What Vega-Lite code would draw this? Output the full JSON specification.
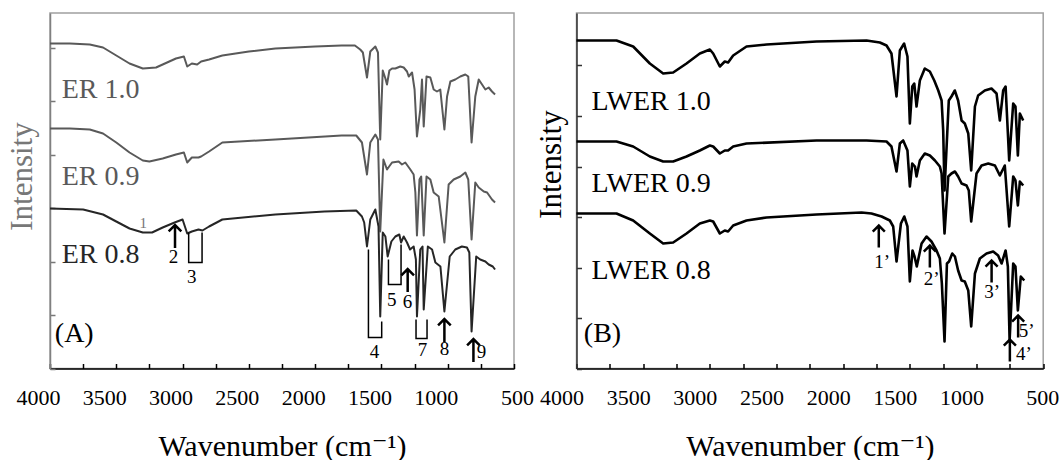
{
"$schema":"https://vega.github.io/schema/vega-lite/v6.json",
"padding":{"left":5,"top":12,"right":5,"bottom":0},
"bounds":"flush",
"spacing":62.5,
"config":{"font":"Times New Roman, Liberation Serif, DejaVu Serif, serif","axis":{"grid":false,"labelFont":"Times New Roman, Liberation Serif, DejaVu Serif, serif","titleFont":"Times New Roman, Liberation Serif, DejaVu Serif, serif"},"text":{"font":"Times New Roman, Liberation Serif, DejaVu Serif, serif"},"view":{"stroke":"#a0a0a0","strokeWidth":1.5}},
"datasets":{
"er":[
{"s":"ER 1.0","w":4000,"y":325},{"s":"ER 1.0","w":3850,"y":325},{"s":"ER 1.0","w":3700,"y":324},{"s":"ER 1.0","w":3600,"y":321},{"s":"ER 1.0","w":3500,"y":313},{"s":"ER 1.0","w":3400,"y":305},{"s":"ER 1.0","w":3300,"y":300},{"s":"ER 1.0","w":3200,"y":301},{"s":"ER 1.0","w":3100,"y":307},{"s":"ER 1.0","w":3050,"y":310},{"s":"ER 1.0","w":2990,"y":312},{"s":"ER 1.0","w":2965,"y":302},{"s":"ER 1.0","w":2930,"y":305},{"s":"ER 1.0","w":2890,"y":304},{"s":"ER 1.0","w":2860,"y":307},{"s":"ER 1.0","w":2800,"y":309},{"s":"ER 1.0","w":2700,"y":313},{"s":"ER 1.0","w":2500,"y":317},{"s":"ER 1.0","w":2300,"y":320},{"s":"ER 1.0","w":2000,"y":322},{"s":"ER 1.0","w":1800,"y":323},{"s":"ER 1.0","w":1700,"y":323},{"s":"ER 1.0","w":1660,"y":319},{"s":"ER 1.0","w":1640,"y":316},{"s":"ER 1.0","w":1609,"y":291},{"s":"ER 1.0","w":1584,"y":317},{"s":"ER 1.0","w":1546,"y":322},{"s":"ER 1.0","w":1526,"y":316},{"s":"ER 1.0","w":1509,"y":229},{"s":"ER 1.0","w":1490,"y":298},{"s":"ER 1.0","w":1470,"y":290},{"s":"ER 1.0","w":1458,"y":284},{"s":"ER 1.0","w":1440,"y":298},{"s":"ER 1.0","w":1420,"y":300},{"s":"ER 1.0","w":1395,"y":300},{"s":"ER 1.0","w":1358,"y":302},{"s":"ER 1.0","w":1332,"y":301},{"s":"ER 1.0","w":1307,"y":297},{"s":"ER 1.0","w":1294,"y":292},{"s":"ER 1.0","w":1269,"y":296},{"s":"ER 1.0","w":1250,"y":279},{"s":"ER 1.0","w":1232,"y":232},{"s":"ER 1.0","w":1207,"y":259},{"s":"ER 1.0","w":1194,"y":289},{"s":"ER 1.0","w":1181,"y":242},{"s":"ER 1.0","w":1160,"y":292},{"s":"ER 1.0","w":1131,"y":291},{"s":"ER 1.0","w":1106,"y":279},{"s":"ER 1.0","w":1081,"y":277},{"s":"ER 1.0","w":1056,"y":279},{"s":"ER 1.0","w":1025,"y":239},{"s":"ER 1.0","w":1005,"y":272},{"s":"ER 1.0","w":980,"y":287},{"s":"ER 1.0","w":943,"y":289},{"s":"ER 1.0","w":905,"y":292},{"s":"ER 1.0","w":867,"y":294},{"s":"ER 1.0","w":845,"y":292},{"s":"ER 1.0","w":820,"y":226},{"s":"ER 1.0","w":792,"y":272},{"s":"ER 1.0","w":766,"y":289},{"s":"ER 1.0","w":741,"y":284},{"s":"ER 1.0","w":716,"y":279},{"s":"ER 1.0","w":691,"y":281},{"s":"ER 1.0","w":666,"y":277},{"s":"ER 1.0","w":643,"y":274},
{"s":"ER 0.9","w":4000,"y":240},{"s":"ER 0.9","w":3850,"y":240},{"s":"ER 0.9","w":3700,"y":239},{"s":"ER 0.9","w":3600,"y":235},{"s":"ER 0.9","w":3500,"y":226},{"s":"ER 0.9","w":3400,"y":216},{"s":"ER 0.9","w":3300,"y":208},{"s":"ER 0.9","w":3250,"y":207},{"s":"ER 0.9","w":3150,"y":210},{"s":"ER 0.9","w":3050,"y":214},{"s":"ER 0.9","w":2990,"y":216},{"s":"ER 0.9","w":2965,"y":206},{"s":"ER 0.9","w":2930,"y":211},{"s":"ER 0.9","w":2880,"y":211},{"s":"ER 0.9","w":2860,"y":212},{"s":"ER 0.9","w":2800,"y":217},{"s":"ER 0.9","w":2700,"y":226},{"s":"ER 0.9","w":2300,"y":229},{"s":"ER 0.9","w":2050,"y":231},{"s":"ER 0.9","w":1800,"y":233},{"s":"ER 0.9","w":1690,"y":233},{"s":"ER 0.9","w":1647,"y":226},{"s":"ER 0.9","w":1609,"y":194},{"s":"ER 0.9","w":1584,"y":226},{"s":"ER 0.9","w":1546,"y":234},{"s":"ER 0.9","w":1526,"y":229},{"s":"ER 0.9","w":1509,"y":137},{"s":"ER 0.9","w":1485,"y":209},{"s":"ER 0.9","w":1458,"y":199},{"s":"ER 0.9","w":1420,"y":206},{"s":"ER 0.9","w":1370,"y":207},{"s":"ER 0.9","w":1345,"y":204},{"s":"ER 0.9","w":1320,"y":206},{"s":"ER 0.9","w":1282,"y":199},{"s":"ER 0.9","w":1257,"y":194},{"s":"ER 0.9","w":1244,"y":176},{"s":"ER 0.9","w":1232,"y":133},{"s":"ER 0.9","w":1213,"y":189},{"s":"ER 0.9","w":1200,"y":192},{"s":"ER 0.9","w":1181,"y":133},{"s":"ER 0.9","w":1160,"y":192},{"s":"ER 0.9","w":1131,"y":189},{"s":"ER 0.9","w":1106,"y":176},{"s":"ER 0.9","w":1068,"y":172},{"s":"ER 0.9","w":1025,"y":126},{"s":"ER 0.9","w":993,"y":184},{"s":"ER 0.9","w":955,"y":189},{"s":"ER 0.9","w":905,"y":192},{"s":"ER 0.9","w":867,"y":196},{"s":"ER 0.9","w":845,"y":189},{"s":"ER 0.9","w":820,"y":129},{"s":"ER 0.9","w":792,"y":186},{"s":"ER 0.9","w":766,"y":181},{"s":"ER 0.9","w":728,"y":177},{"s":"ER 0.9","w":703,"y":176},{"s":"ER 0.9","w":666,"y":169},{"s":"ER 0.9","w":643,"y":166},
{"s":"ER 0.8","w":4000,"y":160},{"s":"ER 0.8","w":3750,"y":159},{"s":"ER 0.8","w":3600,"y":154},{"s":"ER 0.8","w":3500,"y":147},{"s":"ER 0.8","w":3400,"y":140},{"s":"ER 0.8","w":3300,"y":136},{"s":"ER 0.8","w":3230,"y":136},{"s":"ER 0.8","w":3150,"y":141},{"s":"ER 0.8","w":3060,"y":146},{"s":"ER 0.8","w":3000,"y":149},{"s":"ER 0.8","w":2965,"y":135},{"s":"ER 0.8","w":2930,"y":137},{"s":"ER 0.8","w":2880,"y":139},{"s":"ER 0.8","w":2850,"y":138},{"s":"ER 0.8","w":2800,"y":142},{"s":"ER 0.8","w":2700,"y":149},{"s":"ER 0.8","w":2300,"y":154},{"s":"ER 0.8","w":1930,"y":157},{"s":"ER 0.8","w":1690,"y":158},{"s":"ER 0.8","w":1647,"y":152},{"s":"ER 0.8","w":1630,"y":146},{"s":"ER 0.8","w":1609,"y":122},{"s":"ER 0.8","w":1584,"y":149},{"s":"ER 0.8","w":1546,"y":159},{"s":"ER 0.8","w":1522,"y":142},{"s":"ER 0.8","w":1509,"y":52},{"s":"ER 0.8","w":1490,"y":136},{"s":"ER 0.8","w":1470,"y":132},{"s":"ER 0.8","w":1453,"y":112},{"s":"ER 0.8","w":1425,"y":127},{"s":"ER 0.8","w":1395,"y":132},{"s":"ER 0.8","w":1365,"y":134},{"s":"ER 0.8","w":1352,"y":126},{"s":"ER 0.8","w":1332,"y":132},{"s":"ER 0.8","w":1307,"y":126},{"s":"ER 0.8","w":1284,"y":119},{"s":"ER 0.8","w":1257,"y":122},{"s":"ER 0.8","w":1240,"y":109},{"s":"ER 0.8","w":1232,"y":52},{"s":"ER 0.8","w":1207,"y":119},{"s":"ER 0.8","w":1190,"y":122},{"s":"ER 0.8","w":1181,"y":59},{"s":"ER 0.8","w":1150,"y":122},{"s":"ER 0.8","w":1118,"y":119},{"s":"ER 0.8","w":1093,"y":106},{"s":"ER 0.8","w":1055,"y":102},{"s":"ER 0.8","w":1025,"y":57},{"s":"ER 0.8","w":985,"y":112},{"s":"ER 0.8","w":943,"y":119},{"s":"ER 0.8","w":893,"y":122},{"s":"ER 0.8","w":855,"y":121},{"s":"ER 0.8","w":837,"y":116},{"s":"ER 0.8","w":820,"y":37},{"s":"ER 0.8","w":785,"y":112},{"s":"ER 0.8","w":755,"y":109},{"s":"ER 0.8","w":716,"y":107},{"s":"ER 0.8","w":691,"y":104},{"s":"ER 0.8","w":660,"y":102},{"s":"ER 0.8","w":643,"y":99}
],
"lw":[
{"s":"LWER 1.0","w":4000,"y":328},{"s":"LWER 1.0","w":3700,"y":328},{"s":"LWER 1.0","w":3575,"y":322},{"s":"LWER 1.0","w":3450,"y":305},{"s":"LWER 1.0","w":3350,"y":295},{"s":"LWER 1.0","w":3275,"y":296},{"s":"LWER 1.0","w":3175,"y":305},{"s":"LWER 1.0","w":3075,"y":315},{"s":"LWER 1.0","w":3000,"y":319},{"s":"LWER 1.0","w":2975,"y":315},{"s":"LWER 1.0","w":2925,"y":302},{"s":"LWER 1.0","w":2888,"y":307},{"s":"LWER 1.0","w":2863,"y":306},{"s":"LWER 1.0","w":2825,"y":313},{"s":"LWER 1.0","w":2725,"y":322},{"s":"LWER 1.0","w":2575,"y":324},{"s":"LWER 1.0","w":2200,"y":327},{"s":"LWER 1.0","w":1825,"y":328},{"s":"LWER 1.0","w":1725,"y":326},{"s":"LWER 1.0","w":1675,"y":323},{"s":"LWER 1.0","w":1638,"y":315},{"s":"LWER 1.0","w":1600,"y":272},{"s":"LWER 1.0","w":1575,"y":318},{"s":"LWER 1.0","w":1543,"y":325},{"s":"LWER 1.0","w":1518,"y":312},{"s":"LWER 1.0","w":1500,"y":245},{"s":"LWER 1.0","w":1482,"y":282},{"s":"LWER 1.0","w":1467,"y":285},{"s":"LWER 1.0","w":1450,"y":262},{"s":"LWER 1.0","w":1425,"y":288},{"s":"LWER 1.0","w":1388,"y":300},{"s":"LWER 1.0","w":1350,"y":297},{"s":"LWER 1.0","w":1317,"y":288},{"s":"LWER 1.0","w":1287,"y":278},{"s":"LWER 1.0","w":1262,"y":268},{"s":"LWER 1.0","w":1250,"y":238},{"s":"LWER 1.0","w":1240,"y":178},{"s":"LWER 1.0","w":1208,"y":268},{"s":"LWER 1.0","w":1188,"y":272},{"s":"LWER 1.0","w":1163,"y":278},{"s":"LWER 1.0","w":1138,"y":268},{"s":"LWER 1.0","w":1112,"y":248},{"s":"LWER 1.0","w":1088,"y":245},{"s":"LWER 1.0","w":1062,"y":235},{"s":"LWER 1.0","w":1040,"y":198},{"s":"LWER 1.0","w":1012,"y":262},{"s":"LWER 1.0","w":988,"y":273},{"s":"LWER 1.0","w":938,"y":278},{"s":"LWER 1.0","w":888,"y":280},{"s":"LWER 1.0","w":850,"y":275},{"s":"LWER 1.0","w":825,"y":248},{"s":"LWER 1.0","w":800,"y":278},{"s":"LWER 1.0","w":782,"y":282},{"s":"LWER 1.0","w":755,"y":208},{"s":"LWER 1.0","w":725,"y":265},{"s":"LWER 1.0","w":708,"y":262},{"s":"LWER 1.0","w":690,"y":213},{"s":"LWER 1.0","w":675,"y":255},{"s":"LWER 1.0","w":650,"y":248},
{"s":"LWER 0.9","w":4000,"y":227},{"s":"LWER 0.9","w":3700,"y":227},{"s":"LWER 0.9","w":3575,"y":222},{"s":"LWER 0.9","w":3450,"y":212},{"s":"LWER 0.9","w":3350,"y":207},{"s":"LWER 0.9","w":3275,"y":207},{"s":"LWER 0.9","w":3175,"y":212},{"s":"LWER 0.9","w":3075,"y":218},{"s":"LWER 0.9","w":3000,"y":223},{"s":"LWER 0.9","w":2975,"y":222},{"s":"LWER 0.9","w":2925,"y":215},{"s":"LWER 0.9","w":2888,"y":218},{"s":"LWER 0.9","w":2863,"y":218},{"s":"LWER 0.9","w":2825,"y":222},{"s":"LWER 0.9","w":2725,"y":225},{"s":"LWER 0.9","w":2200,"y":228},{"s":"LWER 0.9","w":1825,"y":228},{"s":"LWER 0.9","w":1675,"y":227},{"s":"LWER 0.9","w":1638,"y":222},{"s":"LWER 0.9","w":1600,"y":197},{"s":"LWER 0.9","w":1575,"y":225},{"s":"LWER 0.9","w":1550,"y":228},{"s":"LWER 0.9","w":1518,"y":218},{"s":"LWER 0.9","w":1500,"y":182},{"s":"LWER 0.9","w":1482,"y":205},{"s":"LWER 0.9","w":1462,"y":202},{"s":"LWER 0.9","w":1450,"y":192},{"s":"LWER 0.9","w":1425,"y":208},{"s":"LWER 0.9","w":1388,"y":215},{"s":"LWER 0.9","w":1350,"y":213},{"s":"LWER 0.9","w":1312,"y":208},{"s":"LWER 0.9","w":1275,"y":202},{"s":"LWER 0.9","w":1262,"y":195},{"s":"LWER 0.9","w":1240,"y":135},{"s":"LWER 0.9","w":1212,"y":192},{"s":"LWER 0.9","w":1188,"y":195},{"s":"LWER 0.9","w":1162,"y":197},{"s":"LWER 0.9","w":1138,"y":192},{"s":"LWER 0.9","w":1112,"y":185},{"s":"LWER 0.9","w":1075,"y":183},{"s":"LWER 0.9","w":1058,"y":178},{"s":"LWER 0.9","w":1040,"y":147},{"s":"LWER 0.9","w":1000,"y":195},{"s":"LWER 0.9","w":962,"y":203},{"s":"LWER 0.9","w":912,"y":205},{"s":"LWER 0.9","w":862,"y":203},{"s":"LWER 0.9","w":825,"y":193},{"s":"LWER 0.9","w":788,"y":203},{"s":"LWER 0.9","w":755,"y":142},{"s":"LWER 0.9","w":725,"y":192},{"s":"LWER 0.9","w":708,"y":188},{"s":"LWER 0.9","w":690,"y":163},{"s":"LWER 0.9","w":675,"y":187},{"s":"LWER 0.9","w":650,"y":183},
{"s":"LWER 0.8","w":4000,"y":155},{"s":"LWER 0.8","w":3700,"y":155},{"s":"LWER 0.8","w":3575,"y":148},{"s":"LWER 0.8","w":3450,"y":135},{"s":"LWER 0.8","w":3350,"y":125},{"s":"LWER 0.8","w":3275,"y":126},{"s":"LWER 0.8","w":3175,"y":135},{"s":"LWER 0.8","w":3075,"y":145},{"s":"LWER 0.8","w":3000,"y":148},{"s":"LWER 0.8","w":2975,"y":147},{"s":"LWER 0.8","w":2925,"y":135},{"s":"LWER 0.8","w":2888,"y":138},{"s":"LWER 0.8","w":2863,"y":137},{"s":"LWER 0.8","w":2825,"y":143},{"s":"LWER 0.8","w":2725,"y":148},{"s":"LWER 0.8","w":2575,"y":151},{"s":"LWER 0.8","w":2200,"y":154},{"s":"LWER 0.8","w":1862,"y":156},{"s":"LWER 0.8","w":1788,"y":155},{"s":"LWER 0.8","w":1712,"y":152},{"s":"LWER 0.8","w":1650,"y":148},{"s":"LWER 0.8","w":1625,"y":142},{"s":"LWER 0.8","w":1600,"y":107},{"s":"LWER 0.8","w":1567,"y":145},{"s":"LWER 0.8","w":1542,"y":152},{"s":"LWER 0.8","w":1518,"y":142},{"s":"LWER 0.8","w":1500,"y":87},{"s":"LWER 0.8","w":1480,"y":118},{"s":"LWER 0.8","w":1465,"y":112},{"s":"LWER 0.8","w":1448,"y":102},{"s":"LWER 0.8","w":1412,"y":125},{"s":"LWER 0.8","w":1375,"y":132},{"s":"LWER 0.8","w":1338,"y":127},{"s":"LWER 0.8","w":1300,"y":118},{"s":"LWER 0.8","w":1275,"y":110},{"s":"LWER 0.8","w":1260,"y":85},{"s":"LWER 0.8","w":1240,"y":27},{"s":"LWER 0.8","w":1222,"y":105},{"s":"LWER 0.8","w":1206,"y":107},{"s":"LWER 0.8","w":1182,"y":115},{"s":"LWER 0.8","w":1162,"y":112},{"s":"LWER 0.8","w":1138,"y":98},{"s":"LWER 0.8","w":1112,"y":88},{"s":"LWER 0.8","w":1088,"y":87},{"s":"LWER 0.8","w":1062,"y":78},{"s":"LWER 0.8","w":1040,"y":42},{"s":"LWER 0.8","w":1012,"y":95},{"s":"LWER 0.8","w":975,"y":110},{"s":"LWER 0.8","w":925,"y":115},{"s":"LWER 0.8","w":875,"y":117},{"s":"LWER 0.8","w":838,"y":113},{"s":"LWER 0.8","w":812,"y":105},{"s":"LWER 0.8","w":782,"y":118},{"s":"LWER 0.8","w":765,"y":102},{"s":"LWER 0.8","w":752,"y":28},{"s":"LWER 0.8","w":725,"y":105},{"s":"LWER 0.8","w":708,"y":102},{"s":"LWER 0.8","w":690,"y":58},{"s":"LWER 0.8","w":668,"y":92},{"s":"LWER 0.8","w":642,"y":88}
],
"erLab":[{"s":"ER 1.0","w":3912,"y":271},{"s":"ER 0.9","w":3912,"y":184},{"s":"ER 0.8","w":3912,"y":106}],
"lwLab":[{"s":"LWER 1.0","w":3887,"y":259},{"s":"LWER 0.9","w":3887,"y":177},{"s":"LWER 0.8","w":3887,"y":90}],
"erArr":[{"w":3057,"y":132},{"w":1302,"y":88},{"w":1025,"y":38},{"w":806,"y":18}],
"lwArr":[{"w":1733,"y":132},{"w":1350,"y":112},{"w":887,"y":97},{"w":750,"y":18},{"w":688,"y":42}],
"erNum":[{"t":"1","w":3296,"y":146},{"t":"2","w":3069,"y":112},{"t":"3","w":2931,"y":92},{"t":"4","w":1553,"y":17},{"t":"5","w":1423,"y":69},{"t":"6","w":1304,"y":67},{"t":"7","w":1191,"y":19},{"t":"8","w":1025,"y":20},{"t":"9","w":745,"y":17}],
"lwNum":[{"t":"1’","w":1708,"y":107},{"t":"2’","w":1337,"y":90},{"t":"3’","w":882,"y":77},{"t":"4’","w":645,"y":15},{"t":"5’","w":625,"y":38}],
"erBr":[{"b":"3","i":0,"w":2954,"y":136},{"b":"3","i":1,"w":2954,"y":106},{"b":"3","i":2,"w":2853,"y":106},{"b":"3","i":3,"w":2853,"y":136},
{"b":"4","i":0,"w":1598,"y":119},{"b":"4","i":1,"w":1598,"y":31},{"b":"4","i":2,"w":1498,"y":31},{"b":"4","i":3,"w":1498,"y":47},
{"b":"5","i":0,"w":1447,"y":109},{"b":"5","i":1,"w":1447,"y":84},{"b":"5","i":2,"w":1352,"y":84},{"b":"5","i":3,"w":1352,"y":124},
{"b":"7","i":0,"w":1239,"y":49},{"b":"7","i":1,"w":1239,"y":30},{"b":"7","i":2,"w":1156,"y":30},{"b":"7","i":3,"w":1156,"y":49}],
"pA":[{"p":"(A)","w":3817,"y":35}],
"pB":[{"p":"(B)","w":3805,"y":35}]
},
"hconcat":[
{
"width":464,"height":355.5,
"resolve":{"axis":{"x":"independent"}},
"layer":[
{"data":{"name":"er"},"mark":{"type":"line","strokeWidth":2,"strokeJoin":"round"},
"encoding":{
"x":{"field":"w","type":"quantitative","scale":{"domain":[4000,500],"nice":false},
"axis":{"values":[4000,3750,3500,3250,3000,2750,2500,2250,2000,1750,1500,1250,1000,750,500],"format":"d","labelExpr":"datum.value % 500 === 0 && datum.value > 500 ? datum.label : ''","labelOffset":-12,"labelFontSize":22,"labelPadding":24,"labelFlush":false,"labelOverlap":false,"labelColor":"#000","tickSize":-5,"tickColor":"#000","tickWidth":1.5,"domainColor":"#000","domainWidth":1.5,"title":"Wavenumber (cm⁻¹)","titleFontSize":30,"titleFontWeight":"normal","titleColor":"#000","titleBaseline":"alphabetic","titleY":86.5}},
"y":{"field":"y","type":"quantitative","scale":{"domain":[0,355.5],"nice":false},
"axis":{"values":[0,53.5,107,160.5,214,267.5,321],"labels":false,"tickSize":-5,"tickColor":"#777","tickWidth":1.5,"domainColor":"#808080","domainWidth":1.5,"title":"Intensity","titleFontSize":31,"titleFontWeight":"normal","titleColor":"#777","titleX":-28,"titleY":163,"titleAngle":270,"titleBaseline":"middle","titleAlign":"center"}},
"color":{"field":"s","type":"nominal","scale":{"domain":["ER 1.0","ER 0.9","ER 0.8"],"range":["#595959","#595959","#262626"]},"legend":null}}},
{"data":{"name":"erBr"},"mark":{"type":"line","strokeWidth":1.5,"color":"#000"},
"encoding":{"x":{"field":"w","type":"quantitative","scale":{"domain":[4000,500],"nice":false},"axis":null},
"y":{"field":"y","type":"quantitative","scale":{"domain":[0,355.5],"nice":false}},
"detail":{"field":"b"},"order":{"field":"i","type":"quantitative"}}},
{"data":{"name":"erArr"},"mark":{"type":"point","shape":"M0,-1L0,1M-0.55,-0.45L0,-1L0.55,-0.45","size":529,"filled":false,"stroke":"#000","strokeWidth":2.5,"opacity":1},
"encoding":{"x":{"field":"w","type":"quantitative","scale":{"domain":[4000,500],"nice":false},"axis":null},
"y":{"field":"y","type":"quantitative","scale":{"domain":[0,355.5],"nice":false}}}},
{"data":{"name":"erNum"},"transform":[{"filter":"datum.t !== '1'"}],"mark":{"type":"text","fontSize":19,"color":"#000","align":"center","baseline":"middle"},
"encoding":{"x":{"field":"w","type":"quantitative","scale":{"domain":[4000,500],"nice":false},"axis":null},
"y":{"field":"y","type":"quantitative","scale":{"domain":[0,355.5],"nice":false}},"text":{"field":"t"}}},
{"data":{"name":"erNum"},"transform":[{"filter":"datum.t === '1'"}],"mark":{"type":"text","fontSize":15,"color":"#777","align":"center","baseline":"middle"},
"encoding":{"x":{"field":"w","type":"quantitative","scale":{"domain":[4000,500],"nice":false},"axis":null},
"y":{"field":"y","type":"quantitative","scale":{"domain":[0,355.5],"nice":false}},"text":{"field":"t"}}},
{"data":{"name":"erLab"},"mark":{"type":"text","fontSize":28,"align":"left","baseline":"alphabetic"},
"encoding":{"x":{"field":"w","type":"quantitative","scale":{"domain":[4000,500],"nice":false},"axis":null},
"y":{"field":"y","type":"quantitative","scale":{"domain":[0,355.5],"nice":false}},"text":{"field":"s"},
"color":{"field":"s","type":"nominal","scale":{"domain":["ER 1.0","ER 0.9","ER 0.8"],"range":["#595959","#595959","#262626"]},"legend":null}}},
{"data":{"name":"pA"},"mark":{"type":"text","fontSize":28,"align":"center","baseline":"middle","color":"#000"},
"encoding":{"x":{"field":"w","type":"quantitative","scale":{"domain":[4000,500],"nice":false},
"axis":{"orient":"bottom","values":[500],"format":"d","labelOffset":3,"labelFontSize":22,"labelPadding":19,"labelFlush":false,"labelOverlap":false,"labelColor":"#000","ticks":false,"domain":false,"title":null}},
"y":{"field":"y","type":"quantitative","scale":{"domain":[0,355.5],"nice":false}},"text":{"field":"p"}}}
]
},
{
"width":466.7,"height":355.5,
"resolve":{"axis":{"x":"independent"}},
"layer":[
{"data":{"name":"lw"},"mark":{"type":"line","strokeWidth":2.6,"strokeJoin":"round","color":"#000"},
"encoding":{
"x":{"field":"w","type":"quantitative","scale":{"domain":[4000,500],"nice":false},
"axis":{"values":[4000,3750,3500,3250,3000,2750,2500,2250,2000,1750,1500,1250,1000,750,500],"format":"d","labelExpr":"datum.value % 500 === 0 && datum.value > 500 ? datum.label : ''","labelOffset":-15,"labelFontSize":22,"labelPadding":24,"labelFlush":false,"labelOverlap":false,"labelColor":"#000","tickSize":-5,"tickColor":"#000","tickWidth":1.5,"domainColor":"#000","domainWidth":1.5,"title":"Wavenumber (cm⁻¹)","titleFontSize":30,"titleFontWeight":"normal","titleColor":"#000","titleBaseline":"alphabetic","titleY":86.5}},
"y":{"field":"y","type":"quantitative","scale":{"domain":[0,355.5],"nice":false},
"axis":{"values":[0,50.5,101,151.5,202,252.5,303],"labels":false,"tickSize":-5,"tickColor":"#333","tickWidth":1.5,"domainColor":"#333","domainWidth":1.5,"title":"Intensity","titleFontSize":31,"titleFontWeight":"normal","titleColor":"#000","titleX":-25,"titleY":151,"titleAngle":270,"titleBaseline":"middle","titleAlign":"center"}},
"detail":{"field":"s"}}},
{"data":{"name":"lwArr"},"mark":{"type":"point","shape":"M0,-1L0,1M-0.55,-0.45L0,-1L0.55,-0.45","size":484,"filled":false,"stroke":"#000","strokeWidth":2.5,"opacity":1},
"encoding":{"x":{"field":"w","type":"quantitative","scale":{"domain":[4000,500],"nice":false},"axis":null},
"y":{"field":"y","type":"quantitative","scale":{"domain":[0,355.5],"nice":false}}}},
{"data":{"name":"lwNum"},"mark":{"type":"text","fontSize":19,"color":"#000","align":"center","baseline":"middle"},
"encoding":{"x":{"field":"w","type":"quantitative","scale":{"domain":[4000,500],"nice":false},"axis":null},
"y":{"field":"y","type":"quantitative","scale":{"domain":[0,355.5],"nice":false}},"text":{"field":"t"}}},
{"data":{"name":"lwLab"},"mark":{"type":"text","fontSize":28,"align":"left","baseline":"alphabetic","color":"#000"},
"encoding":{"x":{"field":"w","type":"quantitative","scale":{"domain":[4000,500],"nice":false},"axis":null},
"y":{"field":"y","type":"quantitative","scale":{"domain":[0,355.5],"nice":false}},"text":{"field":"s"}}},
{"data":{"name":"pB"},"mark":{"type":"text","fontSize":28,"align":"center","baseline":"middle","color":"#000"},
"encoding":{"x":{"field":"w","type":"quantitative","scale":{"domain":[4000,500],"nice":false},
"axis":{"orient":"bottom","values":[500],"format":"d","labelOffset":-1,"labelFontSize":22,"labelPadding":19,"labelFlush":false,"labelOverlap":false,"labelColor":"#000","ticks":false,"domain":false,"title":null}},
"y":{"field":"y","type":"quantitative","scale":{"domain":[0,355.5],"nice":false}},"text":{"field":"p"}}}
]
}
]
}
